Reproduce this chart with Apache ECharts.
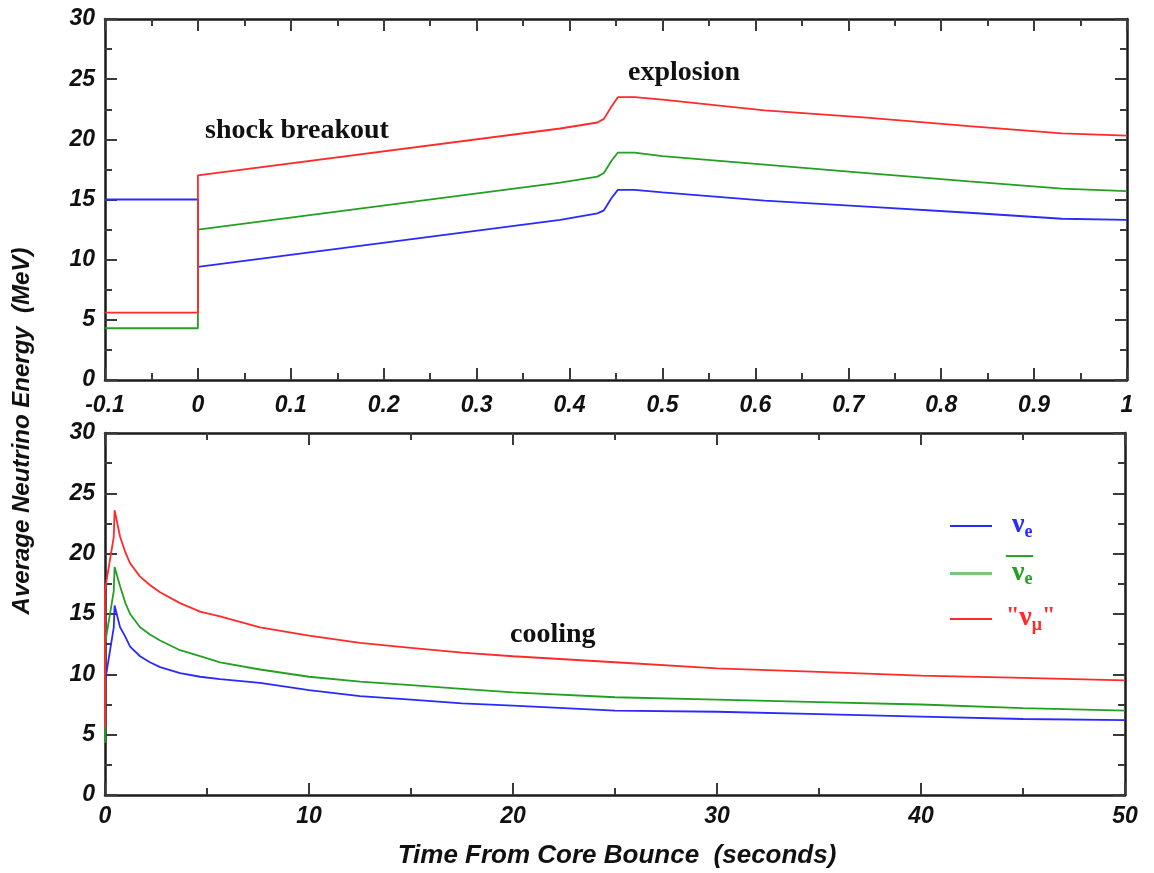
<!DOCTYPE html>
<html>
<head>
<meta charset="utf-8">
<script src="https://cdn.jsdelivr.net/npm/echarts@6/dist/echarts.min.js"></script>
<style>
html,body{margin:0;padding:0;background:#fff;}
#chart{width:1154px;height:873px;}
</style>
</head>
<body>
<div id="chart"></div>
<script>
// ---- Data ----
// Top panel: first second after bounce (time in seconds)
const topTime   = [-0.1, 0, 0, 0.39, 0.43, 0.437, 0.445, 0.452, 0.47, 0.5, 0.61, 0.72, 0.83, 0.93, 1.0];
const topNuE    = [15.0, 15.0, 9.4, 13.3, 13.85, 14.1, 15.1, 15.8, 15.8, 15.6, 14.9, 14.4, 13.9, 13.4, 13.3];
const topNuEBar = [4.3, 4.3, 12.5, 16.4, 16.9, 17.2, 18.2, 18.9, 18.9, 18.6, 17.9, 17.2, 16.5, 15.9, 15.7];
const topNuMu   = [5.6, 5.6, 17.0, 20.9, 21.4, 21.7, 22.7, 23.5, 23.5, 23.3, 22.4, 21.8, 21.1, 20.5, 20.3];

// Bottom panel: full 50 s cooling phase
const botTime   = [0, 0, 0.43, 0.47, 0.74, 1.0, 1.23, 1.72, 2.2, 2.7, 3.68, 4.66, 5.64, 7.6, 10, 12.5, 15, 17.5, 20, 25, 30, 35, 40, 45, 50];
const botNuE    = [15.0, 9.4, 13.9, 15.7, 13.9, 13.1, 12.3, 11.5, 11.0, 10.6, 10.1, 9.8, 9.6, 9.3, 8.7, 8.2, 7.9, 7.6, 7.4, 7.0, 6.9, 6.7, 6.5, 6.3, 6.2];
const botNuEBar = [4.3, 12.5, 16.9, 18.9, 17.3, 15.9, 15.0, 13.9, 13.3, 12.8, 12.0, 11.5, 11.0, 10.4, 9.8, 9.4, 9.1, 8.8, 8.5, 8.1, 7.9, 7.7, 7.5, 7.2, 7.0];
const botNuMu   = [5.6, 17.0, 21.4, 23.6, 21.4, 20.1, 19.2, 18.1, 17.4, 16.8, 15.9, 15.2, 14.8, 13.9, 13.2, 12.6, 12.2, 11.8, 11.5, 11.0, 10.5, 10.2, 9.9, 9.7, 9.5];

const seriesNames = ['nue', 'nuebar', 'numu'];
const seriesColors = ['#2a2aff', '#22a022', '#ff2a2a'];

const yTitle = 'Average Neutrino Energy  (MeV)';
const xTitle = 'Time From Core Bounce  (seconds)';
const annotations = ['shock breakout', 'explosion', 'cooling'];

// ---- Chart ----
const zip = (xs, ys) => xs.map((x, i) => [x, ys[i]]);
const chart = echarts.init(document.getElementById('chart'), null, {renderer: 'canvas'});

const tickFont = {fontFamily: 'Liberation Sans', fontStyle: 'italic', fontWeight: 'bold', fontSize: 23, color: '#111'};
const axisLineStyle = {color: '#1a1a1a', width: 2.5};
const tickStyle = {color: '#3a3a3a', width: 2};

function mkAxis(base, labeled, pos) {
  return Object.assign({
    type: 'value',
    position: pos,
    axisLine: {show: true, onZero: false, lineStyle: axisLineStyle},
    axisTick: {show: true, inside: true, length: 12, lineStyle: tickStyle},
    minorTick: {show: true, splitNumber: 2, length: 7, lineStyle: tickStyle},
    splitLine: {show: false},
    minorSplitLine: {show: false},
    axisLabel: Object.assign({show: labeled}, tickFont)
  }, base);
}

const fmt1 = v => String(Math.round(v * 10) / 10);

const xAxes = [
  mkAxis({gridIndex: 0, min: -0.1, max: 1, interval: 0.1, axisLabel: Object.assign({show: true, margin: 14, formatter: fmt1}, tickFont)}, true, 'bottom'),
  mkAxis({gridIndex: 0, min: -0.1, max: 1, interval: 0.1}, false, 'top'),
  mkAxis({gridIndex: 1, min: 0, max: 50, interval: 10, axisLabel: Object.assign({show: true, margin: 10}, tickFont)}, true, 'bottom'),
  mkAxis({gridIndex: 1, min: 0, max: 50, interval: 10}, false, 'top')
];
const yAxes = [
  mkAxis({gridIndex: 0, min: 0, max: 30, interval: 5, axisLabel: Object.assign({show: true, margin: 10}, tickFont)}, true, 'left'),
  mkAxis({gridIndex: 0, min: 0, max: 30, interval: 5}, false, 'right'),
  mkAxis({gridIndex: 1, min: 0, max: 30, interval: 5, axisLabel: Object.assign({show: true, margin: 10}, tickFont)}, true, 'left'),
  mkAxis({gridIndex: 1, min: 0, max: 30, interval: 5}, false, 'right')
];

function mkSeries(name, color, xi, yi, data) {
  return {
    name: name, type: 'line', xAxisIndex: xi, yAxisIndex: yi,
    data: data, showSymbol: false, symbol: 'none',
    lineStyle: {color: color, width: 1.8}, itemStyle: {color: color},
    smooth: false, animation: false, z: 3
  };
}

const series = [
  mkSeries('nue', seriesColors[0], 0, 0, zip(topTime, topNuE)),
  mkSeries('nuebar', seriesColors[1], 0, 0, zip(topTime, topNuEBar)),
  mkSeries('numu', seriesColors[2], 0, 0, zip(topTime, topNuMu)),
  mkSeries('nue', seriesColors[0], 2, 2, zip(botTime, botNuE)),
  mkSeries('nuebar', seriesColors[1], 2, 2, zip(botTime, botNuEBar)),
  mkSeries('numu', seriesColors[2], 2, 2, zip(botTime, botNuMu))
];

const serif = 'Liberation Serif';
const richBase = (color) => ({
  pad: {width: 15, lineHeight: 30},
  padq: {width: 9, lineHeight: 30},
  padol: {width: 9, lineHeight: 6},
  padb: {width: 1, lineHeight: 6},
  n: {fontFamily: serif, fontWeight: 'bold', fontSize: 28, color: color, lineHeight: 12, verticalAlign: 'top'},
  s: {fontFamily: serif, fontWeight: 'bold', fontSize: 18, color: color, lineHeight: 20, verticalAlign: 'bottom'},
  q: {fontFamily: serif, fontWeight: 'bold', fontSize: 24, color: color, lineHeight: 6, verticalAlign: 'top'},
  ol: {fontFamily: serif, fontWeight: 'bold', fontSize: 27, color: color, lineHeight: 6, verticalAlign: 'middle'}
});

const legendLabels = {
  nue: '{pad|}{n|ν}{s|e}',
  nuebar: '{padol|}{ol|—}\n{pad|}{n|ν}{s|e}\n{padb|}',
  numu: '{padq|}{q|"}{n|ν}{s|μ}{q|"}'
};

function mkLegend(name, idx, top, h, op) {
  return {
    data: [name], left: 950, top: top, padding: 0, orient: 'vertical',
    icon: 'rect', itemWidth: 42, itemHeight: h,
    itemStyle: {opacity: op},
    selectedMode: false,
    formatter: n => legendLabels[n],
    textStyle: {rich: richBase(seriesColors[idx])}
  };
}

const annFont = 'bold 28px "Liberation Serif"';
const graphics = [
  {type: 'text', x: 22, y: 431, rotation: Math.PI / 2,
   style: {text: yTitle, font: 'italic bold 24px "Liberation Sans"', fill: '#111', align: 'center', verticalAlign: 'middle'}},
  {type: 'text', x: 617, y: 856,
   style: {text: xTitle, font: 'italic bold 26px "Liberation Sans"', fill: '#111', align: 'center', verticalAlign: 'middle'}},
  {type: 'text', x: 205, y: 131, style: {text: annotations[0], font: annFont, fill: '#111', align: 'left', verticalAlign: 'middle'}},
  {type: 'text', x: 628, y: 73, style: {text: annotations[1], font: annFont, fill: '#111', align: 'left', verticalAlign: 'middle'}},
  {type: 'text', x: 510, y: 635, style: {text: annotations[2], font: annFont, fill: '#111', align: 'left', verticalAlign: 'middle'}}
];

chart.setOption({
  animation: false,
  backgroundColor: '#fff',
  grid: [
    {left: 105, top: 19, width: 1022, height: 361},
    {left: 105, top: 433, width: 1020, height: 362}
  ],
  xAxis: xAxes,
  yAxis: yAxes,
  legend: [
    mkLegend('nue', 0, 511, 2, 1),
    mkLegend('nuebar', 1, 542, 3, 0.6),
    mkLegend('numu', 2, 604, 2, 1)
  ],
  graphic: graphics,
  series: series
});
</script>
</body>
</html>
